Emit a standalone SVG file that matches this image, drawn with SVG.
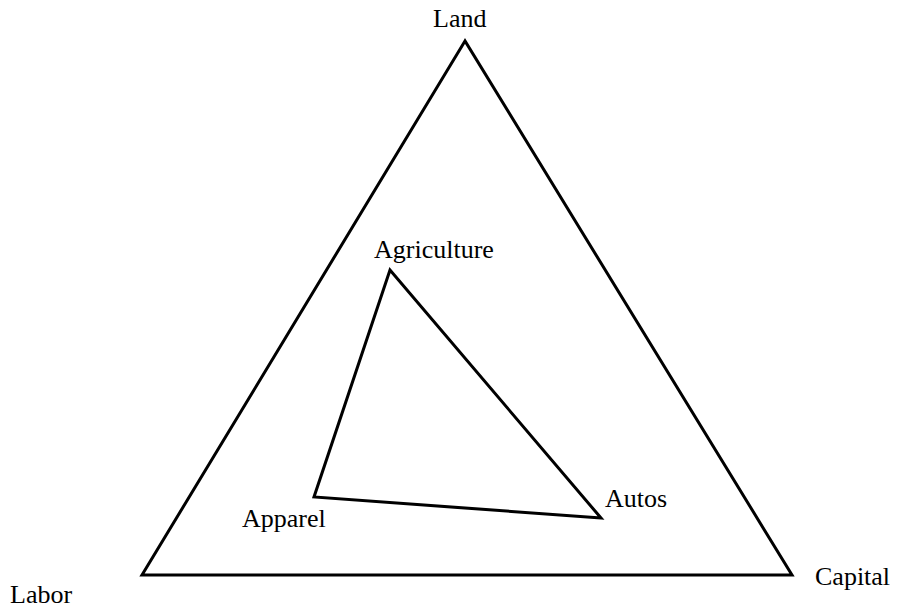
<svg xmlns="http://www.w3.org/2000/svg" width="897" height="611" viewBox="0 0 897 611">
<style>
.t{font-family:"Liberation Serif","Times New Roman",serif;font-size:26px;fill:#000}
.e{fill:none;stroke:#000;stroke-width:3;stroke-linejoin:miter}
</style>
<rect width="897" height="611" fill="#fff"/>
<g id="connectors">
<polygon class="e" points="465,41 142,575 792,575"/>
<polygon class="e" points="390,270 314,497 601,518"/>
</g>
<g id="land"><text class="t" x="433" y="27">Land</text></g>
<g id="labor"><text class="t" x="10" y="603">Labor</text></g>
<g id="capital"><text class="t" x="815" y="585">Capital</text></g>
<g id="agriculture"><text class="t" x="374" y="258">Agriculture</text></g>
<g id="apparel"><text class="t" x="242" y="527">Apparel</text></g>
<g id="autos"><text class="t" x="605" y="507">Autos</text></g>
</svg>
